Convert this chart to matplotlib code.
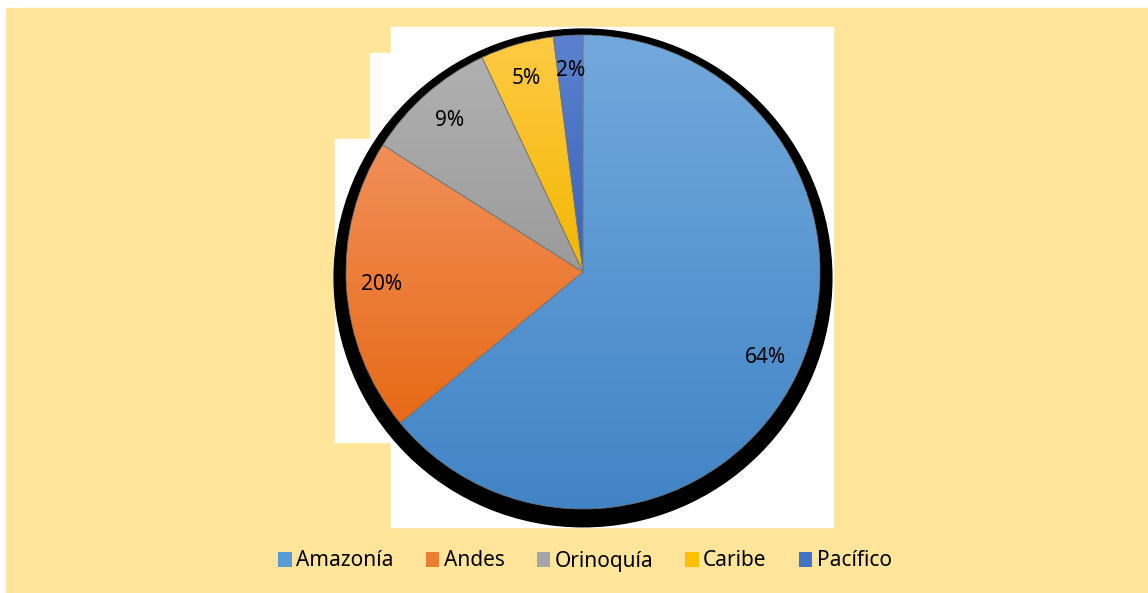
import numpy as np
import matplotlib.pyplot as plt
from matplotlib.patches import Rectangle, Circle, Patch

plt.rcParams['font.family'] = ['Noto Sans', 'DejaVu Sans']

regiones = ['Amazonía', 'Andes', 'Orinoquía', 'Caribe', 'Pacífico']
porcentajes = [64, 20, 9, 5, 2]

# top / bottom colours of the vertical gradient of each slice
col_top = ['#72A9DD', '#F18F58', '#B0B0B0', '#FFCA45', '#5C82CE']
col_bot = ['#4184C6', '#E76A17', '#9B9B9B', '#F2B700', '#3763BB']
col_mid = ['#5B9BD5', '#ED7D31', '#A5A5A5', '#FFC000', '#4472C4']

W, H = 1148, 593
fig = plt.figure(figsize=(W / 100, H / 100), dpi=100, facecolor='white')

# yellow chart area
fig.patches.append(Rectangle((6 / W, 0), 1 - 6 / W, (H - 8) / H,
                             transform=fig.transFigure, color='#FFE599', zorder=0))
# white blocks behind the pie
for (x0, y0, x1, y1) in [(391, 27, 833, 527), (370, 53, 600, 300), (335, 139, 600, 442)]:
    fig.patches.append(Rectangle((x0 / W, (H - y1) / H), (x1 - x0) / W, (y1 - y0) / H,
                                 transform=fig.transFigure, color='white', zorder=1))

cx, cy, half = 583, 272, 260
R = 237.0
lim = half / R
ax = fig.add_axes([(cx - half) / W, (H - cy - half) / H, 2 * half / W, 2 * half / H])
ax.set_facecolor('none')
ax.set_zorder(2)

# shadow
ax.add_patch(Circle((0.0, -0.025), 1.05, color='black', zorder=0))

wedges, texts, autotexts = ax.pie(porcentajes, startangle=90, counterclock=False,
                                  radius=1, autopct='%1.0f%%', pctdistance=0.85,
                                  wedgeprops=dict(linewidth=0.5, edgecolor='#777777'),
                                  textprops=dict(fontsize=15, color='#000000'))

# gradient fill clipped to each slice
ang = 90.0
for i, w in enumerate(wedges):
    span = porcentajes[i] / sum(porcentajes) * 360
    t = np.radians(np.linspace(ang - span, ang, 200))
    ys = np.concatenate([np.sin(t), [0]])
    ymin, ymax = ys.min(), ys.max()
    ang -= span
    c1 = np.array(plt.matplotlib.colors.to_rgb(col_top[i]))
    c2 = np.array(plt.matplotlib.colors.to_rgb(col_bot[i]))
    f = np.linspace(0, 1, 256)[:, None]
    grad = (c1 * (1 - f) + c2 * f)[:, None, :]
    im = ax.imshow(grad, extent=(-1, 1, ymin, ymax), origin='upper',
                   aspect='auto', zorder=1, interpolation='bilinear')
    im.set_clip_path(w)
    w.set_facecolor('none')
    w.set_zorder(2)
for t in autotexts:
    t.set_zorder(3)

ax.set_xlim(-lim, lim)
ax.set_ylim(-lim, lim)
ax.set_aspect('equal')
ax.axis('off')

handles = [Patch(facecolor=c, edgecolor='none') for c in col_mid]
fig.legend(handles, regiones, loc='center', bbox_to_anchor=(585 / W, 32 / H),
           ncol=5, frameon=False, fontsize=15, handlelength=0.65, handleheight=0.75,
           handletextpad=0.2, columnspacing=1.55, labelcolor='#000000')

fig.savefig('out.png', dpi=100, facecolor='white')
